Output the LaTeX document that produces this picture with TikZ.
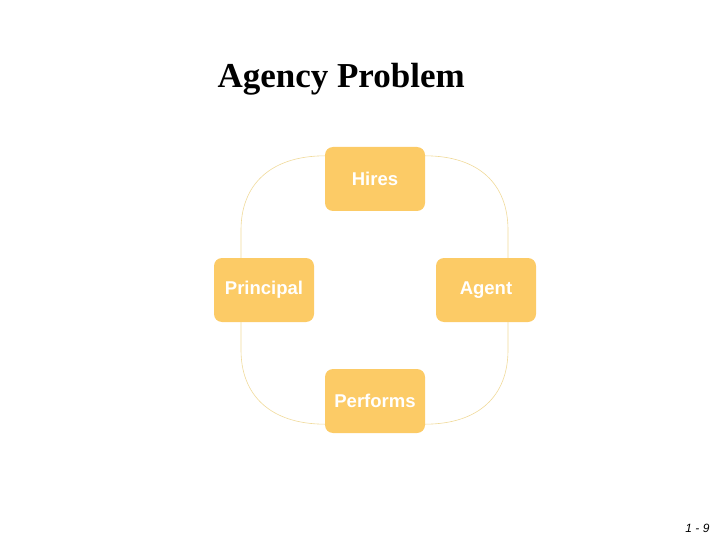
\documentclass[tikz,border=0pt]{standalone}
\usepackage{fontspec}
\setmainfont{Liberation Serif}
\newfontfamily\arialf{Liberation Sans}
\definecolor{boxfill}{HTML}{FCCB66}
\definecolor{arcline}{HTML}{F0DA9A}
\begin{document}
\begin{tikzpicture}[x=1pt,y=-1pt,
  box/.style={fill=boxfill,draw=none,rounded corners=8pt,minimum width=100pt,minimum height=64pt,
    inner sep=0pt,text=white,font=\arialf\bfseries\fontsize{18.5}{22}\selectfont},
  arc/.style={draw=arcline,line width=0.6pt}]
\useasboundingbox (0,0) rectangle (720,540);
\node[anchor=base west,font=\bfseries\fontsize{35}{40}\selectfont] (title) at (214,88) {Agency Problem};
\node[box] (hires) at (375,179) {Hires};
\node[box] (principal) at (264,290) {Principal};
\node[box] (agent) at (486,290) {Agent};
\node[box] (performs) at (375,401) {Performs};
\coordinate (hl) at ([yshift=-9pt]hires.north west);
\coordinate (hr) at ([yshift=-9pt]hires.north east);
\coordinate (pl) at ([yshift=9pt]performs.south west);
\coordinate (pr) at ([yshift=9pt]performs.south east);
\coordinate (prt) at ([xshift=-23pt]principal.north);
\coordinate (prb) at ([xshift=-23pt]principal.south);
\coordinate (agt) at ([xshift=22pt]agent.north);
\coordinate (agb) at ([xshift=22pt]agent.south);
\draw[arc] (hl) .. controls (270,156) and (241,185) .. (241,230) -- (prt);
\draw[arc] (hr) .. controls (480,156) and (508,185) .. (508,230) -- (agt);
\draw[arc] (prb) -- (241,350) .. controls (241,395) and (270,424) .. (pl);
\draw[arc] (agb) -- (508,350) .. controls (508,395) and (480,424) .. (pr);
\node[anchor=base east,font=\arialf\itshape\fontsize{12}{14}\selectfont] (pg) at (713,532) {1 - 9};
\end{tikzpicture}
\end{document}
